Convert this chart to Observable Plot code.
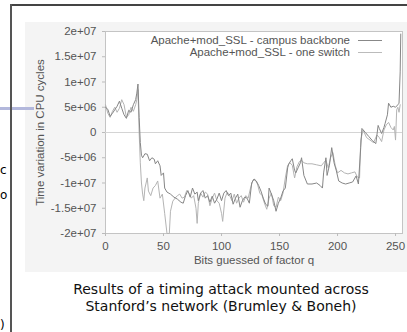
<!DOCTYPE html>
<html><head><meta charset="utf-8">
<script src="https://cdn.jsdelivr.net/npm/d3@7"></script>
<script src="https://cdn.jsdelivr.net/npm/@observablehq/plot@0.6"></script>
<style>
body{margin:0;background:#fff;}
#page{position:relative;width:407px;height:332px;overflow:hidden;background:#fff;font-family:"Liberation Sans",Arial,sans-serif;}
#imgbg{position:absolute;left:25px;top:22px;width:400px;height:250px;background:#f4f4f4;}
#chart{position:absolute;left:0;top:0;}
#frameTop{position:absolute;left:10px;top:4px;width:400px;height:2px;background:#444;}
#frameLeft{position:absolute;left:10px;top:4px;width:2px;height:340px;background:#555;}
#lav{position:absolute;left:0;top:107px;width:34px;height:3px;background:#b3b8dc;}
.stray{position:absolute;left:0;font-family:"DejaVu Sans",sans-serif;font-size:12px;line-height:12px;color:#000;}
#legend{position:absolute;left:100px;top:34px;width:290px;font-size:11.5px;color:#555;}
.lrow{position:relative;height:12px;line-height:12px;}
.lrow span{position:absolute;right:40px;white-space:nowrap;}
.lrow i{position:absolute;right:8px;top:6px;width:24px;height:0;border-top:1px solid #888;}
#caption{position:absolute;left:21px;width:400px;top:281px;text-align:center;font-family:"DejaVu Sans",sans-serif;font-size:14px;line-height:17px;color:#111;}
</style></head><body>
<div id="page">
  <div id="imgbg"></div>
  <div id="chart"></div>
  <div id="legend">
    <div class="lrow"><span>Apache+mod_SSL - campus backbone</span><i></i></div>
    <div class="lrow"><span>Apache+mod_SSL - one switch</span><i style="border-top-color:#bbb"></i></div>
  </div>
  <div id="caption">Results of a timing attack mounted across<br>Stanford’s network (Brumley &amp; Boneh)</div>
  <div id="lav"></div>
  <div id="frameTop"></div>
  <div id="frameLeft"></div>
  <div class="stray" style="top:164px;">c</div>
  <div class="stray" style="top:189px;">o</div>
  <div class="stray" style="top:319px;">)</div>
</div>
<script>
// Series: campus backbone
const bitsBackbone = [0,2,4,6,8,10,12,14,16,18,20,22,24,26,27,28,29,30,31,32,34,36,38,40,42,43,45,47,48,50,51,53,56,59,62,65,67,69,71,73,75,77,79,80,82,84,86,88,90,92,94,96,98,100,102,104,106,108,110,112,114,116,118,120,122,124,126,128,130,132,134,136,138,140,141,143,145,147,149,151,153,155,157,158,160,161,163,164,166,168,169,171,174,178,182,185,187,188,190,191,193,195,197,199,201,204,207,210,213,216,218,220,221,224,227,230,233,235,236,238,240,241,243,244,246,248,250,252,253,254,254.5];
const cyclesBackbone = [5.0e6,4.6e6,3.2e6,3.8e6,4.5e6,5.2e6,6.2e6,4.8e6,3.5e6,2.8e6,4.4e6,4.0e6,5.5e6,6.5e6,7.8e6,9.6e6,3.0e6,-2.0e6,-4.5e6,-5.0e6,-4.2e6,-4.3e6,-5.6e6,-5.0e6,-5.3e6,-6.2e6,-5.6e6,-6.6e6,-8.5e6,-8.0e6,-11.0e6,-11.8e6,-12.2e6,-12.8e6,-13.2e6,-13.8e6,-14.0e6,-12.5e6,-11.5e6,-12.8e6,-11.0e6,-12.2e6,-11.8e6,-13.5e6,-12.0e6,-11.5e6,-13.0e6,-12.5e6,-13.8e6,-12.6e6,-14.0e6,-13.2e6,-12.0e6,-13.5e6,-12.0e6,-11.5e6,-12.5e6,-12.0e6,-14.2e6,-13.0e6,-12.2e6,-14.8e6,-13.5e6,-12.8e6,-13.0e6,-14.0e6,-10.0e6,-9.2e6,-9.6e6,-10.5e6,-11.6e6,-13.0e6,-14.2e6,-14.6e6,-11.0e6,-12.2e6,-13.5e6,-15.6e6,-14.0e6,-13.0e6,-11.6e6,-11.0e6,-7.0e6,-6.2e6,-5.5e6,-5.2e6,-7.5e6,-8.0e6,-7.0e6,-6.0e6,-5.0e6,-8.5e6,-10.2e6,-10.2e6,-10.0e6,-10.5e6,-11.0e6,-8.0e6,-5.0e6,-8.5e6,-6.5e6,-3.0e6,-6.0e6,-7.6e6,-9.6e6,-10.0e6,-10.2e6,-10.0e6,-9.8e6,-8.6e6,-10.2e6,-3.0e6,0.8e6,0.0e6,-0.8e6,-1.6e6,-2.2e6,1.4e6,0.8e6,-0.2e6,1.0e6,1.8e6,3.5e6,5.8e6,5.0e6,5.2e6,5.0e6,5.5e6,5.8e6,12.0e6,19.5e6];
// Series: one switch
const bitsSwitch = [0,2,4,6,8,10,12,14,16,18,20,22,24,26,27,28,29,30,31,32,33,34,36,37,39,41,43,45,47,49,51,53,55,56,58,60,62,64,66,68,70,72,74,76,78,79,80,82,84,86,88,90,92,94,96,98,100,101,103,105,107,109,111,113,115,117,119,121,123,125,127,129,131,133,135,137,139,141,143,145,147,149,151,153,155,157,159,161,163,165,167,169,171,174,178,182,186,188,190,192,194,196,198,200,203,206,209,212,215,217,219,220,222,225,228,231,234,236,238,240,242,244,246,248,249,250,251,252,253,254];
const cyclesSwitch = [5.5e6,3.8e6,3.0e6,4.2e6,5.0e6,4.0e6,4.8e6,6.5e6,5.5e6,3.0e6,3.5e6,5.0e6,4.2e6,5.5e6,6.5e6,8.5e6,0.0e6,-6.0e6,-10.0e6,-12.2e6,-13.5e6,-11.0e6,-9.0e6,-11.6e6,-12.5e6,-11.0e6,-10.5e6,-9.6e6,-13.0e6,-12.2e6,-16.0e6,-20.0e6,-20.0e6,-15.6e6,-13.6e6,-13.0e6,-12.5e6,-12.2e6,-13.0e6,-12.8e6,-11.5e6,-12.0e6,-13.0e6,-12.5e6,-15.0e6,-18.0e6,-14.0e6,-12.0e6,-12.8e6,-11.8e6,-12.2e6,-14.5e6,-13.0e6,-12.0e6,-13.5e6,-14.0e6,-16.0e6,-17.6e6,-13.0e6,-11.8e6,-12.5e6,-13.5e6,-12.2e6,-14.0e6,-13.0e6,-12.5e6,-13.8e6,-12.5e6,-13.0e6,-11.0e6,-9.5e6,-9.4e6,-10.2e6,-12.0e6,-12.5e6,-14.0e6,-15.2e6,-13.0e6,-12.0e6,-14.5e6,-14.8e6,-12.8e6,-13.5e6,-12.0e6,-9.0e6,-6.5e6,-6.0e6,-6.5e6,-9.0e6,-6.8e6,-5.8e6,-5.5e6,-6.0e6,-6.2e6,-6.2e6,-6.4e6,-6.6e6,-6.0e6,-5.5e6,-7.0e6,-5.0e6,-4.0e6,-6.5e6,-8.0e6,-7.5e6,-8.0e6,-8.2e6,-8.0e6,-7.8e6,-8.8e6,-9.0e6,-1.5e6,0.5e6,-1.0e6,-1.5e6,-2.0e6,-0.5e6,-1.0e6,-1.8e6,0.5e6,1.5e6,2.0e6,1.0e6,0.5e6,1.2e6,-1.5e6,4.5e6,5.0e6,4.0e6,5.5e6];
// Axes
const xTicks = [0,50,100,150,200,250];
const yTicks = [2e7,1.5e7,1e7,5e6,0,-5e6,-1e7,-1.5e7,-2e7];
const yTickLabels = ["2e+07","1.5e+07","1e+07","5e+06","0","-5e+06","-1e+07","-1.5e+07","-2e+07"];

const backbone = bitsBackbone.map((q,i)=>({q, v: cyclesBackbone[i]}));
const oneSwitch = bitsSwitch.map((q,i)=>({q, v: cyclesSwitch[i]}));

const chart = Plot.plot({
  width: 407, height: 275,
  marginLeft: 105, marginRight: 5, marginTop: 31, marginBottom: 42,
  style: {background: "transparent", fontFamily: "'Liberation Sans', Arial, sans-serif", fontSize: "11.5px", color: "#555"},
  x: {domain: [0, 256]},
  y: {domain: [-2e7, 2e7]},
  marks: [
    Plot.frame({fill: "#fff", stroke: "#c4c4c4"}),
    Plot.ruleY([0], {stroke: "#d4d4d4"}),
    Plot.line(oneSwitch, {x: "q", y: "v", stroke: "#b4b4b4", strokeWidth: 1}),
    Plot.line(backbone, {x: "q", y: "v", stroke: "#868686", strokeWidth: 1}),
    Plot.axisY({ticks: yTicks, tickFormat: d => yTickLabels[yTicks.indexOf(d)], tickSize: 3, tickPadding: 6, stroke: "#bbb",
      label: "Time variation in CPU cycles", labelAnchor: "center", labelArrow: "none", labelOffset: 70}),
    Plot.axisX({ticks: xTicks, tickSize: 3, tickPadding: 5, stroke: "#bbb",
      label: "Bits guessed of factor q", labelAnchor: "center", labelArrow: "none", labelOffset: 30})
  ]
});
document.getElementById("chart").appendChild(chart);
</script>
</body></html>
